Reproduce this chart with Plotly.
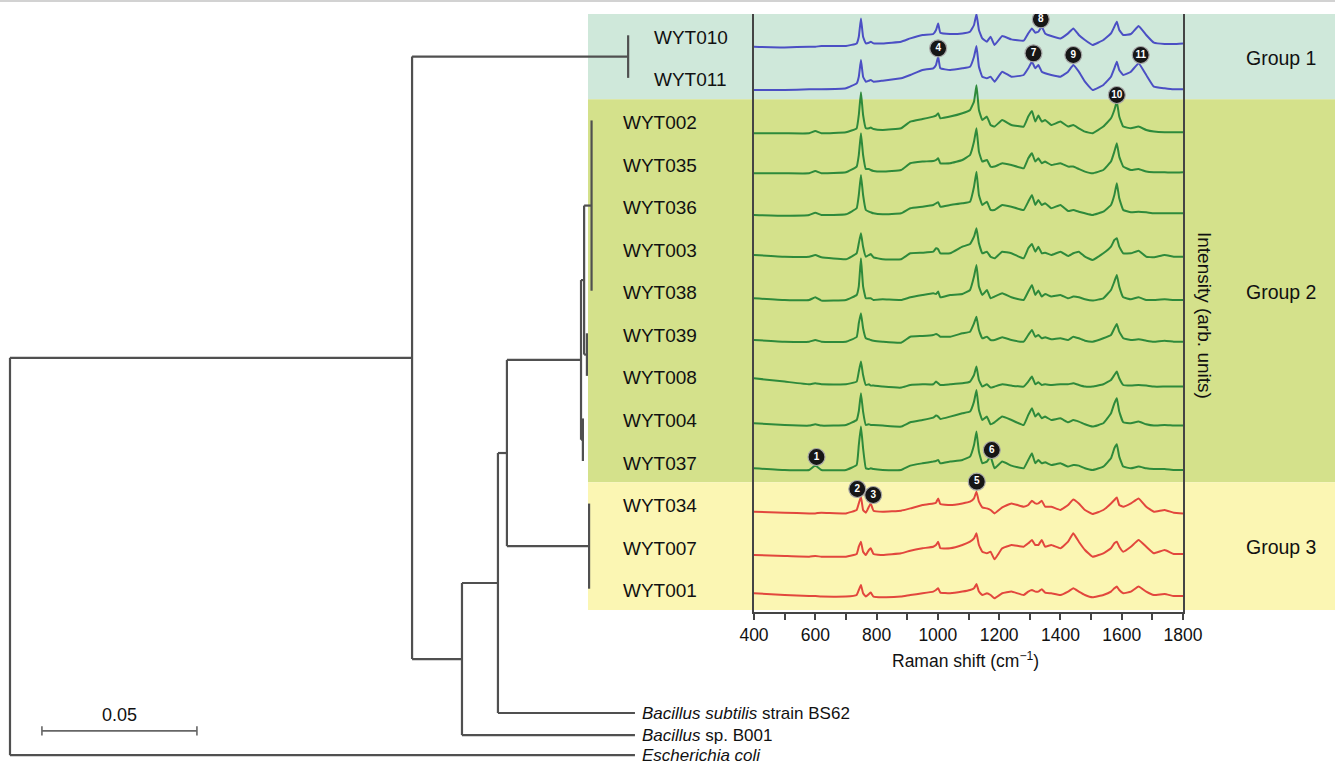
import plotly.graph_objects as go

FONT = "Liberation Sans, Arial, sans-serif"

# ---------------- data ----------------
strains = ["WYT010", "WYT011", "WYT002", "WYT035", "WYT036", "WYT003", "WYT038",
           "WYT039", "WYT008", "WYT004", "WYT037", "WYT034", "WYT007", "WYT001"]
strain_group = [1, 1, 2, 2, 2, 2, 2, 2, 2, 2, 2, 3, 3, 3]
group_names = ["Group 1", "Group 2", "Group 3"]
# vertical stacking offset of each spectrum (arb. units)
stack_offset = [546.6, 503.3, 460.0, 420.0, 378.3, 338.3, 295.0, 253.3, 215.0,
                170.0, 125.0, 81.6, 38.3, 0.0]

wavenumber = [400, 500, 580, 600, 620, 700, 735, 742, 749, 756, 765, 775, 781, 790, 820,
              880, 910, 950, 985, 994, 1001, 1008, 1040, 1080, 1105, 1118, 1126, 1134, 1145,
              1160, 1172, 1185, 1210, 1240, 1280, 1295, 1307, 1318, 1328, 1339, 1350, 1370,
              1400, 1425, 1442, 1460, 1480, 1505, 1540, 1565, 1576, 1584, 1592, 1605, 1630,
              1655, 1680, 1705, 1740, 1770, 1800]

int_WYT010 = [0, -0.7, 0, 0, 0.7, 0.7, 3.3, 10, 28.3, 10, 3.3, 4, 5, 3.3, 3.3, 5, 8.3, 11.7,
              12.7, 16.7, 23.3, 14, 12.7, 13.3, 15, 21.7, 32.7, 16.7, 8.3, 5, 10, 1.7, 10.7,
              7.3, 6, 13.3, 18.3, 14, 15, 20, 13.3, 10.7, 8.3, 13.3, 18.3, 11.7, 6.7, 1.7,
              6.7, 13.3, 20, 25, 16.7, 11.7, 12.7, 20.7, 11.7, 4, 2.7, 2.7, 3.3]
int_WYT011 = [0, 0, 0.7, 0.7, 0.7, 1.7, 6.7, 13.3, 30, 13.3, 8.3, 9.3, 10, 8.3, 9.3, 11.7,
              15, 20, 21.7, 25, 33.3, 21.7, 20, 21.7, 23.3, 33.3, 44, 23.3, 13.3, 11.7, 13.3,
              8.3, 18.3, 13.3, 15, 21.7, 28.3, 21.7, 25, 18.3, 16.7, 15, 13.3, 18.3, 25,
              18.3, 8.3, 0, 5, 13.3, 21.7, 28.3, 20, 15, 18.3, 26.7, 15, 3.3, 1.7, 0.7, 0.7]
int_WYT002 = [0, 0, 0, 2.3, 0, 1, 5, 18.3, 41, 18.3, 5, 5, 5.7, 4.3, 3.3, 5, 11.7, 14.3,
              16.7, 17.7, 20, 15, 16.7, 20, 23.3, 31.7, 48, 23.3, 13.3, 16.7, 8.3, 6.7, 13.3,
              8.3, 6.7, 16.7, 22.3, 11.7, 17.7, 11.7, 13.3, 8.3, 11.7, 6.7, 8.3, 5, 1.7, 0,
              6.7, 15, 23.3, 31.7, 16.7, 6.7, 5, 6.7, 3.3, 1.7, 1, 1, 1]
int_WYT035 = [0, 0, 0, 2.3, 0, 1, 6.7, 18.3, 40, 18.3, 4.3, 4.3, 3.3, 2.3, 1.7, 3.3, 10,
              11.7, 12.3, 13.3, 15, 10, 10, 13.3, 18.3, 31.7, 45, 21.7, 11.7, 13.3, 6.7, 6.7,
              10, 8.3, 5, 15, 20, 11.7, 15, 10, 11.7, 8.3, 10, 6.7, 6.7, 4.3, 1.7, 0, 3.3,
              11.7, 21.7, 30, 16.7, 6.7, 3.3, 4.3, 1.7, 1, 1, 0.7, 1]
int_WYT036 = [0, -0.7, 0, 2.3, 0, 0.7, 6.7, 20, 40, 20, 5, 3.3, 2.7, 1.7, 0.7, 1.7, 6.7,
              8.3, 10, 11.7, 12.7, 8.3, 10, 11.7, 13.3, 28.3, 43.3, 20, 10, 13.3, 5, 5, 10,
              8.3, 5, 13.3, 20, 10, 15, 10, 11.7, 6.7, 10, 4, 5, 3.3, 1.7, 0, 3.3, 10, 20,
              31.7, 16.7, 5, 2.7, 3.3, 2.7, 1.7, 1.7, 1.7, 1.7]
int_WYT003 = [0, -1.7, -1.7, 0, -2.3, -4.3, 1.7, 11.7, 21.7, 8.3, -1.7, 0, 1, -2.3, -4.3,
              -4.3, 1.7, 2.3, 3.3, 6.7, 5.7, 1.7, 1.7, 8.3, 11, 18.3, 26.7, 11.7, 1.7, 3.3,
              -1.7, -3.3, 3.3, 1.7, -3.3, 6.7, 11, 3.3, 8.3, 1.7, 2.3, 0, 3.3, -1, 1.7, 3.3,
              -1.7, -5, 1.7, 8.3, 15, 16.7, 8.3, 1.7, 1.7, 4.3, -1.7, -2.3, 0, -1.7, -1.7]
int_WYT038 = [0, -1.7, -1.7, 1, -2.3, -1.7, 3.3, 12, 40, 12, 0, 0, 0, -1.7, -1, -1.7, 1,
              3.3, 5, 4.3, 6.7, 1, 3.3, 4.3, 8.3, 21.7, 33.3, 11.7, 3.3, 8.3, 0, 1.7, 5, 1,
              -1.7, 6.7, 13.3, 3.3, 7.7, 1.7, 4.3, 1.7, 3.3, 0, 1.7, 1, -1, -2.3, 0, 8.3,
              16.7, 23.3, 11.7, 1, -1, 1, -1.7, -1.7, -1, -1.7, -1.7]
int_WYT039 = [0, -1.7, -1.7, 0, -1.7, -1.7, 3, 16.7, 26.7, 11.7, 1.7, 0.7, 0, -0.7, -1.7,
              -2.7, 3.3, 4, 5, 6, 5, 3.3, 3.3, 6.7, 8.3, 16.7, 23.3, 10, 1.7, 3.3, 0, 0,
              2.7, 0, -1.7, 5, 10, 3.3, 5, 1.7, 2.7, 0.7, 1.7, 0, 3.3, 1.7, -0.7, -1.7, 1.7,
              5, 11.7, 16, 8.3, 1.7, 0, 0.7, -0.7, -1.7, -0.7, -1.7, -1.7]
int_WYT008 = [0, -3.3, -6, -5, -6, -6, -3.3, 6.7, 16.7, 3.3, -6.7, -6, -7.3, -7.3, -8.3,
              -9.3, -6.7, -6, -6, -3.3, -5, -6.7, -6, -5, -3.3, 3.3, 11.7, -1.7, -8.3, -6,
              -9.3, -8.3, -6, -7.3, -8.3, -3.3, 1.7, -6, -4, -6.7, -6, -6.7, -6, -6, -5,
              -6.7, -8.3, -8.3, -6, -1.7, 3.3, 6.7, 0, -6.7, -7.3, -6.7, -7.3, -8.3, -8.3,
              -8.3, -8.3]
int_WYT004 = [0, -1.7, -2.3, -1, -2.3, -1.7, 3.3, 12, 30, 11.7, -1.7, -1, -1.7, -1.7, -2.3,
              -3.3, 1, 3.3, 5.7, 7.7, 6.7, 4.3, 6.7, 10, 11.7, 21.7, 33.3, 13.3, 3.3, 6.7, -1,
              1, 6.7, 3.3, -1.7, 8.3, 15, 6.7, 10, 5, 6.7, 3.3, 5, 1, 3.3, 1.7, -1, -3.3, 0,
              10, 20, 25, 11.7, 1, 0, 1.7, -1, -2.3, -1.7, -2.3, -2.3]
int_WYT037 = [0, -1.7, -1.7, 2.7, -1.7, -1.7, 3.3, 23.3, 41.7, 20, 0, -0.7, 0, -0.7, -1.7,
              -1.7, 2.7, 5, 6.7, 7.3, 8.3, 5, 6.7, 8.3, 11.7, 23.3, 36.7, 16.7, 5, 6.7, 11.7,
              0, 6.7, 2.7, 0, 8.3, 15, 5, 8.3, 5, 6, 3.3, 5, 1.7, 3.3, 2.7, 0, -1.7, 1.7, 10,
              20, 24, 11.7, 1.7, 0, 1.7, 0, -0.7, -0.7, -1.7, -1.7]
int_WYT034 = [0, -1, -1.7, -1.7, -1, -1.7, 1.7, 8.3, 15, 1.7, -1, 5, 8.3, 1, 0, 1, 3.3, 6.7,
              8.3, 9, 13.3, 7.7, 6.7, 8.3, 10, 13.3, 20, 10, 4.3, 3.3, 1.7, -1.7, 4.3, 8.3, 5,
              6.7, 11, 8.3, 8.3, 11, 5, 5, 1.7, 6.7, 12.3, 8.3, 1.7, -2.3, 1.7, 8.3, 11.7,
              14.3, 6.7, 5, 8.3, 13.3, 5, 0, 1.7, -1, -1.7]
int_WYT007 = [0, -1, -1.7, -1, -1.7, -1.7, 1, 8.3, 13.3, 3.3, 0, 5, 6.7, 1, 0, 1.7, 4.3,
              6.7, 8.3, 10, 13.3, 6.7, 6.7, 10, 13.3, 16.7, 21.7, 10, 3.3, 1.7, 3.3, -4.3,
              6.7, 10, 8.3, 11.7, 15, 10, 10, 15, 8.3, 10, 6.7, 13.3, 21.7, 13.3, 5, -1.7,
              1.7, 6.7, 11.7, 13.3, 8.3, 3.3, 8.3, 15, 8.3, 1.7, 5, 1, 1]
int_WYT001 = [0, -1.7, -2.7, -2.7, -3.3, -3.3, -1.7, 3.3, 8.3, 0, -3.3, -0.7, 0.7, -3.3, -4,
              -3.3, -1.7, 0, 1.7, 3.3, 5, 0.7, 0, 1.7, 3.3, 5, 9.3, 1.7, -1.7, 0, -1.7, -5, 0,
              1.7, -1.7, 1.7, 3.3, 1.7, 1.7, 4, 0.7, 0, -1.7, 1.7, 5, 1.7, -1.7, -4, -1.7,
              1.7, 5, 6.7, 3.3, 0, 1.7, 6.7, 1.7, -1.7, -0.7, -2.7, -2.7]

intensities = [int_WYT010, int_WYT011, int_WYT002, int_WYT035, int_WYT036, int_WYT003,
               int_WYT038, int_WYT039, int_WYT008, int_WYT004, int_WYT037, int_WYT034,
               int_WYT007, int_WYT001]

# numbered band markers
badge_label = ["1", "2", "3", "4", "5", "6", "7", "8", "9", "10", "11"]
badge_strain = ["WYT037", "WYT034", "WYT034", "WYT011", "WYT034", "WYT037", "WYT011",
                "WYT010", "WYT011", "WYT002", "WYT011"]
badge_wn = [604, 737, 789, 1001, 1127, 1176, 1312, 1336, 1442, 1584, 1662]
badge_height = [11.3, 22.7, 16.7, 41.7, 30, 18.3, 36.7, 27.4, 35, 38.3, 35]

# phylogenetic tree (branch lengths, substitutions per site)
tree = {"children": [
    {"len": 0.1297, "children": [
        {"len": 0.0697, "clade": ["WYT010", "WYT011"]},
        {"len": 0.0161, "children": [
            {"len": 0.0116, "children": [
                {"len": 0.0029, "children": [
                    {"len": 0.0239, "children": [
                        {"len": 0.0010, "children": [
                            {"len": 0.0024, "clade": ["WYT002", "WYT035", "WYT036", "WYT003", "WYT038"]},
                            {"len": 0.0009, "clade": ["WYT039", "WYT008"]},
                        ]},
                        {"len": 0.0006, "clade": ["WYT004", "WYT037"]},
                    ]},
                    {"len": 0.0265, "clade": ["WYT034", "WYT007", "WYT001"]},
                ]},
                {"len": 0.0442, "tip": "bs62"},
            ]},
            {"len": 0.0558, "tip": "b001"},
        ]},
    ]},
    {"len": 0.2016, "tip": "ecoli"},
]}
outgroup_keys = ["bs62", "b001", "ecoli"]
outgroup_labels = ["<i>Bacillus subtilis</i> strain BS62", "<i>Bacillus</i> sp. B001",
                   "<i>Escherichia coli</i>"]
outgroup_rows = [15.92, 16.44, 16.91]
scale_bar_length = 0.05

# ---------------- styles ----------------
W, H = 1335, 764
band_colors = ["#cfe8da", "#d4e18b", "#fbf6b3"]
line_colors = {1: "#4b4fc4", 2: "#2e8a3b", 3: "#e2473d"}
tree_color = "#505050"
frame_color = "#444444"

fig = go.Figure()

# ---- tree layout ----
seg_x, seg_y = [], []


def seg(x0, y0, x1, y1):
    seg_x.extend([x0, x1, None])
    seg_y.extend([y0, y1, None])


def place(node, x):
    if "clade" in node:
        rows = [strains.index(s) for s in node["clade"]]
        seg(x, min(rows), x, max(rows))
        return sum(rows) / len(rows)
    if "tip" in node:
        return outgroup_rows[outgroup_keys.index(node["tip"])]
    ys = []
    for ch in node["children"]:
        cx = x + ch["len"]
        cy = place(ch, cx)
        seg(x, cy, cx, cy)
        ys.append(cy)
    seg(x, min(ys), x, max(ys))
    return sum(ys) / len(ys)


place(tree, 0.0)
fig.add_trace(go.Scatter(x=seg_x, y=seg_y, mode="lines", xaxis="x", yaxis="y",
                         line=dict(color=tree_color, width=2.2), hoverinfo="skip"))

# scale bar
sb_x0 = 0.0103
sb_y = 16.34
fig.add_trace(go.Scatter(
    x=[sb_x0, sb_x0 + scale_bar_length, None, sb_x0, sb_x0, None,
       sb_x0 + scale_bar_length, sb_x0 + scale_bar_length],
    y=[sb_y, sb_y, None, sb_y - 0.11, sb_y + 0.11, None, sb_y - 0.11, sb_y + 0.11],
    mode="lines", xaxis="x", yaxis="y", line=dict(color="#666666", width=1.6),
    hoverinfo="skip"))

# ---- spectra ----
for i, s in enumerate(strains):
    fig.add_trace(go.Scatter(
        x=wavenumber, y=[stack_offset[i] + v for v in intensities[i]],
        mode="lines", xaxis="x2", yaxis="y2", name=s,
        line=dict(color=line_colors[strain_group[i]], width=2.0, shape="spline",
                  smoothing=0.3)))

# ---- badges ----
fig.add_trace(go.Scatter(
    x=badge_wn,
    y=[stack_offset[strains.index(s)] + h for s, h in zip(badge_strain, badge_height)],
    mode="markers+text", xaxis="x2", yaxis="y2", text=badge_label,
    textposition="middle center",
    textfont=dict(color="white", size=10, family=FONT, weight="bold"),
    marker=dict(size=17, color="#161616", line=dict(color="#a8a8a8", width=1.2)),
    hoverinfo="skip"))

# ---- bands ----
shapes = []
for g in (1, 2, 3):
    rows = [i for i, sg in enumerate(strain_group) if sg == g]
    shapes.append(dict(type="rect", xref="paper", yref="y", x0=588 / W, x1=1.0,
                       y0=min(rows) - 0.5, y1=max(rows) + 0.5,
                       fillcolor=band_colors[g - 1], line=dict(width=0), layer="below"))
shapes.append(dict(type="line", xref="paper", yref="paper", x0=0, x1=1, y0=1 - 1 / H,
                   y1=1 - 1 / H, line=dict(color="#d2d2d2", width=2)))

# ---- annotations ----
ann = []
for i, s in enumerate(strains):
    xpx = 652 if strain_group[i] == 1 else 621
    ann.append(dict(text=s, xref="paper", yref="y", x=xpx / W, y=i, xanchor="left",
                    yanchor="middle", showarrow=False, yshift=-2,
                    font=dict(family=FONT, size=19, color="#111111")))
for lab, r in zip(outgroup_labels, outgroup_rows):
    ann.append(dict(text=lab, xref="paper", yref="y", x=640 / W, y=r, xanchor="left",
                    yanchor="middle", showarrow=False,
                    font=dict(family=FONT, size=17, color="#111111")))
for g in (1, 2, 3):
    rows = [i for i, sg in enumerate(strain_group) if sg == g]
    ann.append(dict(text=group_names[g - 1], xref="paper", yref="y", x=1281 / W,
                    y=sum(rows) / len(rows), xanchor="center", yanchor="middle",
                    showarrow=False, yshift=-1,
                    font=dict(family=FONT, size=19.5, color="#111111")))
ann.append(dict(text="Intensity (arb. units)", xref="paper", yref="paper", x=1205 / W,
                y=1 - 315 / H, textangle=90, showarrow=False, xanchor="center",
                yanchor="middle", font=dict(family=FONT, size=19, color="#111111")))
ann.append(dict(text="Raman shift (cm<sup>\u22121</sup>)", xref="paper", yref="paper",
                x=966 / W, y=1 - 660 / H, showarrow=False, xanchor="center",
                yanchor="middle", font=dict(family=FONT, size=17.5, color="#111111")))
ann.append(dict(text="0.05", xref="x", yref="y", x=sb_x0 + scale_bar_length / 2,
                y=15.97, showarrow=False, xanchor="center", yanchor="middle",
                font=dict(family=FONT, size=18, color="#111111")))

fig.update_layout(
    template="none",
    width=W, height=H, autosize=False, margin=dict(l=0, r=0, t=0, b=0, pad=0,
                                                   autoexpand=False),
    paper_bgcolor="white", plot_bgcolor="rgba(0,0,0,0)", showlegend=False,
    shapes=shapes, annotations=ann, hovermode=False,
    font=dict(family=FONT, color="#111111"),
    xaxis=dict(domain=[0, 1], range=[-10 / 3100, 1325 / 3100], visible=False,
               fixedrange=True, automargin=False),
    yaxis=dict(domain=[0, 1], range=[(H - 35.29) / 42.571, -35.29 / 42.571],
               visible=False, fixedrange=True, automargin=False),
    xaxis2=dict(domain=[754 / W, 1183 / W], range=[400, 1800], anchor="y2",
                automargin=False,
                showline=True, linecolor=frame_color, linewidth=2, mirror=False,
                ticks="outside", ticklen=6, tickwidth=1.5, tickcolor=frame_color,
                tick0=400, dtick=200, showgrid=False, zeroline=False,
                minor=dict(ticks="outside", dtick=100, tick0=400, ticklen=6,
                           tickwidth=1.5, tickcolor=frame_color, showgrid=False),
                tickfont=dict(family=FONT, size=17.5, color="#111111")),
    yaxis2=dict(domain=[(H - 612) / H, (H - 14) / H], range=[-18.7, 579.3], anchor="x2",
                automargin=False,
                showline=True, linecolor=frame_color, linewidth=2, mirror=True,
                showticklabels=False, ticks="", showgrid=False, zeroline=False),
)

fig.write_html("out.html")
